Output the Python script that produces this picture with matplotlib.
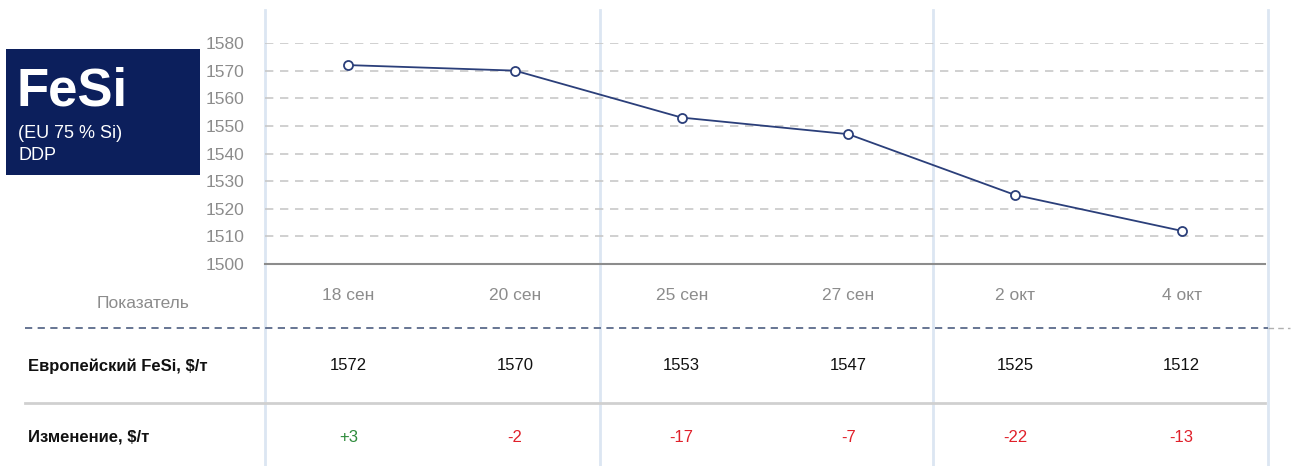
import matplotlib
matplotlib.use('Agg')
import matplotlib.pyplot as plt
import matplotlib.transforms as mtransforms
from matplotlib.patches import Rectangle

# data
dates = ["18 сен", "20 сен", "25 сен", "27 сен", "2 окт", "4 окт"]
prices = [1572, 1570, 1553, 1547, 1525, 1512]
changes = [3, -2, -17, -7, -22, -13]
yticks = [1500, 1510, 1520, 1530, 1540, 1550, 1560, 1570, 1580]

plt.rcParams['font.family'] = ['Liberation Sans', 'DejaVu Sans']
W, H = 1295, 466
fig = plt.figure(figsize=(W / 100, H / 100), dpi=100)

# background axes in pixel coordinates
bg = fig.add_axes([0, 0, 1, 1])
bg.set_xlim(0, W)
bg.set_ylim(H, 0)
bg.axis('off')

# light blue column lines
for x in [265, 600, 933, 1268]:
    bg.plot([x, x], [10, H], color='#dce6f2', lw=2, zorder=0)

# chart axes
x0, x1, ytop, ybot = 265, 1265, 43, 264
ax = fig.add_axes([x0 / W, (H - ybot) / H, (x1 - x0) / W, (ybot - ytop) / H])
ax.set_facecolor('none')
xs = list(range(len(dates)))
ax.set_xlim(-0.5, len(dates) - 0.5)
ax.set_ylim(1500, 1580)
ax.set_yticks(yticks)
ax.set_yticklabels([str(v) for v in yticks], fontsize=12.5, color='#8c8c8c')
ax.tick_params(axis='y', length=0, pad=15)
ax.set_xticks([])
for s in ['top', 'right', 'left']:
    ax.spines[s].set_visible(False)
ax.spines['bottom'].set_color('#8c8c8c')
ax.spines['bottom'].set_linewidth(1.5)
for v in yticks[1:]:
    ax.axhline(v, color='#c8c8c8', lw=1.2, ls=(0, (5, 4)), zorder=1)
ax.plot(xs, prices, color='#2b3f7a', lw=1.3, marker='o', ms=6.5,
        mfc='white', mec='#2b3f7a', mew=1.3, zorder=3, clip_on=False)

# table, x from chart, y in pixels
tr = mtransforms.blended_transform_factory(ax.transData, bg.transData)
for i, d in enumerate(dates):
    bg.text(i, 295, d, transform=tr, ha='center', va='center',
            fontsize=12.5, color='#8c8c8c')
    bg.text(i, 366, str(prices[i]), transform=tr, ha='center', va='center',
            fontsize=12, color='#111111')
    c = changes[i]
    bg.text(i, 437, f"{c:+d}", transform=tr, ha='center', va='center',
            fontsize=12, color='#2e8b3c' if c > 0 else '#e0202a')

bg.text(143, 303, "Показатель", ha='center', va='center',
        fontsize=12.5, color='#8c8c8c')
bg.text(28, 366, "Европейский FeSi, $/т", ha='left', va='center',
        fontsize=12, fontweight='bold', color='#111111')
bg.text(28, 437, "Изменение, $/т", ha='left', va='center',
        fontsize=12, fontweight='bold', color='#111111')

bg.plot([25, 1268], [328, 328], color='#5a6a8a', lw=1.3, ls=(0, (4, 3)))
bg.plot([1268, 1290], [328, 328], color='#b0b0b0', lw=1.0, ls=(0, (4, 3)))
bg.plot([25, 1265], [403, 403], color='#d0d0d0', lw=2)

# title box
bg.add_patch(Rectangle((6, 49), 194, 126, facecolor='#0c1f5c', edgecolor='none'))
bg.text(17, 92, "FeSi", ha='left', va='center', fontsize=38, fontweight='bold', color='white')
bg.text(18, 133, "(EU 75 % Si)", ha='left', va='center', fontsize=13, color='white')
bg.text(18, 155, "DDP", ha='left', va='center', fontsize=13, color='white')

fig.savefig('out.png', dpi=100)
